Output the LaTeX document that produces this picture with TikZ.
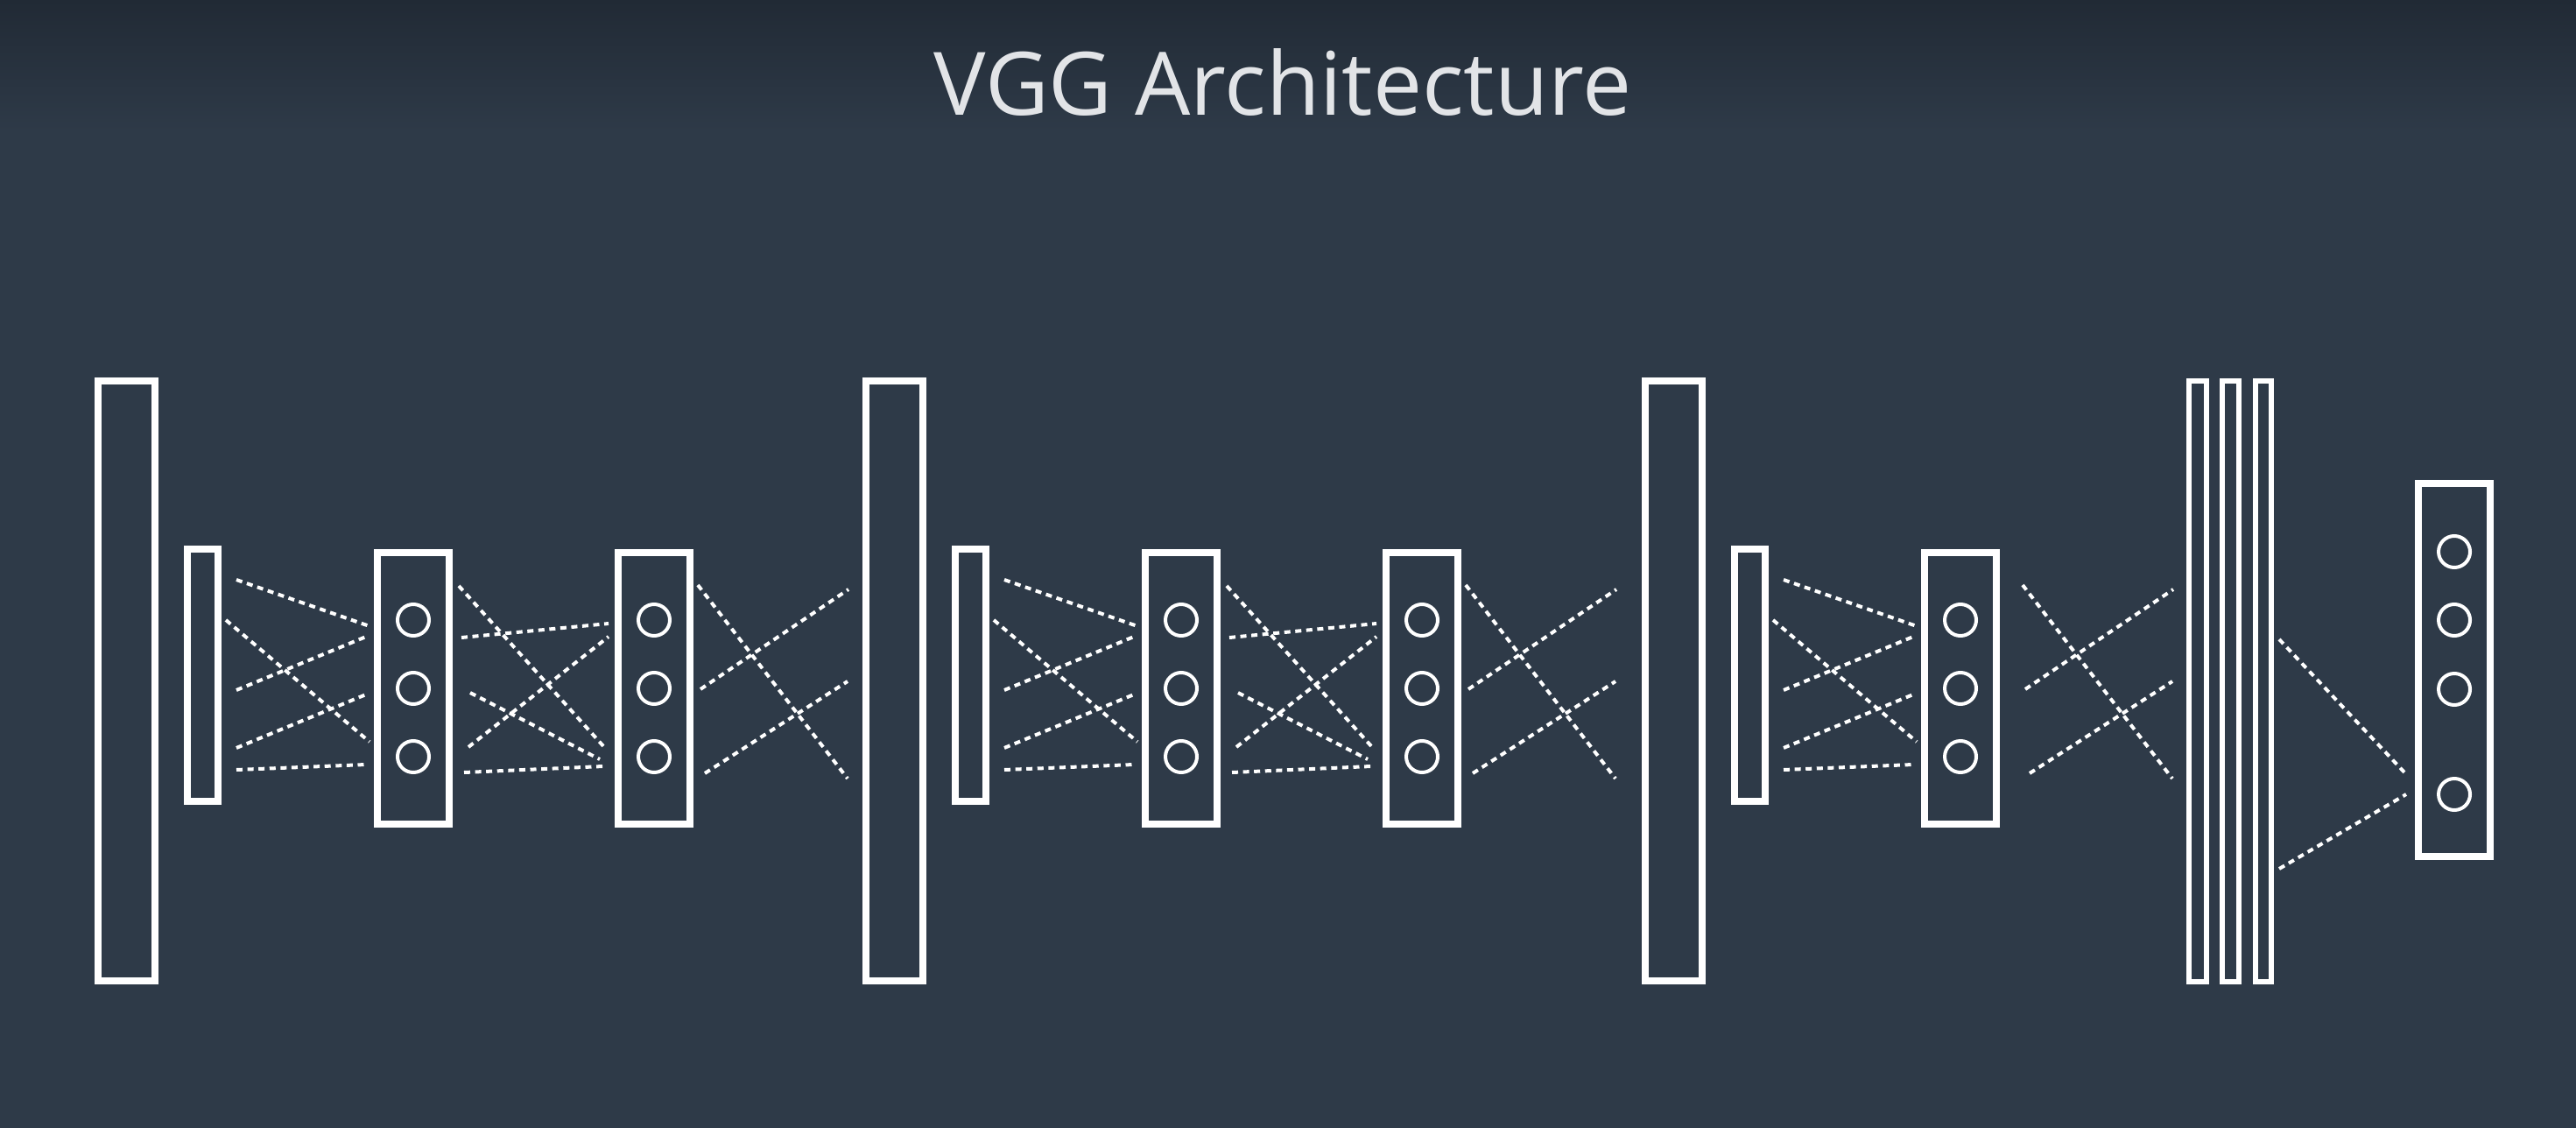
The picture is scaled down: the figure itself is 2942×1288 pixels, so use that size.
\documentclass[tikz,border=0pt]{standalone}
\usepackage{fontspec}
\setmainfont{Open Sans}
\definecolor{slate}{RGB}{46,58,72}
\definecolor{slatetop}{RGB}{33,42,53}
\definecolor{titlegray}{RGB}{226,228,231}

\begin{document}
\begin{tikzpicture}[x=0.5pt,y=-0.5pt,
  layer/.style={white,line width=4pt},
  flatlayer/.style={white,line width=3pt},
  unit/.style={white,line width=2pt},
  link/.style={white,line width=2pt,dash pattern=on 3.5pt off 2.8pt}]

\useasboundingbox (0,0) rectangle (2942,1288);
\fill[slate] (0,0) rectangle (2942,1288);
\shade[top color=slatetop,bottom color=slate] (0,0) rectangle (2942,150);

\node[titlegray,font=\fontsize{50}{60}\selectfont,anchor=base] (title) at (1465,132) {VGG Architecture};

%--------------------------------------------------------
% conv layer, pooling, first unit column (three blocks)
\foreach \dx in {0,877,1767}{
\begin{scope}[shift={(\dx,0)}]
\draw[layer] (112,435) rectangle (177,1120);
\draw[layer] (214,627) rectangle (249,915);
\draw[layer] (431,631) rectangle (513,941);
\draw[unit] (472,708) circle (18);
\draw[unit] (472,786) circle (18);
\draw[unit] (472,864) circle (18);
\draw[link] (270,662) -- (422,715);
\draw[link] (258,708) -- (422,847);
\draw[link] (270,788) -- (418,727);
\draw[link] (270,854) -- (418,793);
\draw[link] (270,879) -- (418,873);
\end{scope}
}

% second unit column (first two blocks)
\foreach \dx in {0,877}{
\begin{scope}[shift={(\dx,0)}]
\draw[layer] (706,631) rectangle (788,941);
\draw[unit] (747,708) circle (18);
\draw[unit] (747,786) circle (18);
\draw[unit] (747,864) circle (18);
\draw[link] (524,669) -- (690,853);
\draw[link] (527,728) -- (695,712);
\draw[link] (535,853) -- (695,727);
\draw[link] (537,791) -- (685,867);
\draw[link] (530,882) -- (689,875);
\end{scope}
}

% crossing links before the next layer
\foreach \dx in {0,877,1513}{
\begin{scope}[shift={(\dx,0)}]
\draw[link] (797,668) -- (968,889);
\draw[link] (800,787) -- (969,673);
\draw[link] (805,883) -- (968,778);
\end{scope}
}

%--------------------------------------------------------
% fully connected layers and output
\draw[flatlayer] (2500,435) rectangle (2520,1121);
\draw[flatlayer] (2538,435) rectangle (2557,1121);
\draw[flatlayer] (2576,435) rectangle (2594,1121);

\draw[layer] (2762,552) rectangle (2844,978);
\draw[unit] (2803,630) circle (18);
\draw[unit] (2803,708) circle (18);
\draw[unit] (2803,787) circle (18);
\draw[unit] (2803,907) circle (18);

\draw[link] (2603,730) -- (2747,883);
\draw[link] (2603,992) -- (2748,907);
\end{tikzpicture}
\end{document}
